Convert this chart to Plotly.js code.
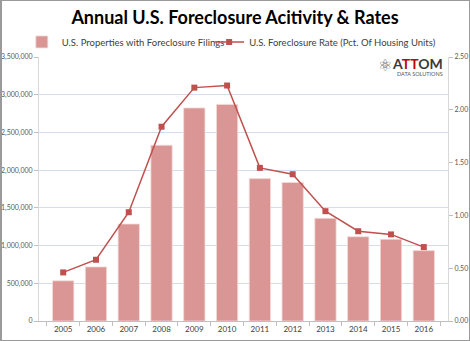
<!DOCTYPE html>
<html>
<head>
<meta charset="utf-8">
<script src="https://cdn.plot.ly/plotly-3.0.1.min.js"></script>
<style>
html,body{margin:0;padding:0;background:#fff;}
#wrap{position:relative;width:470px;height:341px;}
#chart{position:absolute;left:0;top:0;width:470px;height:341px;}
#frame{position:absolute;left:0;top:0;width:470px;height:341px;box-sizing:border-box;border:1px solid #9a9a9a;border-left:2px solid #9a9a9a;pointer-events:none;}
</style>
</head>
<body>
<div id="wrap"><div id="chart"></div><div id="frame"></div></div>
<script>
const years = ['2005','2006','2007','2008','2009','2010','2011','2012','2013','2014','2015','2016'];
const properties = [532833, 717522, 1285873, 2330483, 2824674, 2871891, 1887777, 1836634, 1361795, 1117426, 1083572, 933045];
const rates = [0.46, 0.58, 1.03, 1.84, 2.21, 2.23, 1.45, 1.39, 1.04, 0.85, 0.82, 0.70];
const leftTicks = [0, 500000, 1000000, 1500000, 2000000, 2500000, 3000000, 3500000];
const rightTicks = [0, 0.5, 1.0, 1.5, 2.0, 2.5];

const FONT = 'Lato, "Open Sans", sans-serif';
const traces = [
  {
    type: 'bar', x: years, y: properties,
    name: 'U.S. Properties with Foreclosure Filings',
    marker: {color: '#d99694', line: {color: '#f2dcdb', width: 0.8}},
    yaxis: 'y', legend: 'legend'
  },
  {
    type: 'scatter', mode: 'lines+markers', x: years, y: rates,
    name: 'U.S. Foreclosure Rate (Pct. Of Housing Units)',
    line: {color: '#c0504d', width: 1.5},
    marker: {symbol: 'square', size: 6, color: '#c0504d'},
    yaxis: 'y2', legend: 'legend2'
  }
];
const legendBase = {orientation: 'h', yanchor: 'middle', y: 1.057, font: {family: FONT, size: 9.5, color: '#404040'}, bgcolor: 'rgba(0,0,0,0)', itemwidth: 30};
const layout = {
  width: 470, height: 341,
  margin: {l: 39, r: 22, t: 57, b: 20},
  paper_bgcolor: '#fff', plot_bgcolor: '#fff',
  font: {family: FONT, color: '#595959', size: 8},
  title: {text: '<b>Annual U.S. Foreclosure Acitivity & Rates</b>', font: {family: FONT, size: 18, color: '#000'}, x: 0.5, xanchor: 'center', y: 0.947, yanchor: 'middle'},
  showlegend: true,
  legend: Object.assign({}, legendBase, {x: -0.042, xanchor: 'left'}),
  legend2: Object.assign({}, legendBase, {x: 0.416, xanchor: 'left'}),
  bargap: 0.35,
  xaxis: {
    type: 'category', showgrid: false, showline: true, linecolor: '#bfbfbf', linewidth: 1,
    ticks: 'outside', tickson: 'boundaries', ticklen: 4, tickcolor: '#bfbfbf',
    tickfont: {size: 8, color: '#404040'}, fixedrange: true
  },
  yaxis: {
    range: [0, 3500000], tickvals: leftTicks, tickformat: ',', showgrid: true, gridcolor: '#d3ddef', gridwidth: 1,
    showline: true, linecolor: '#d9d9d9', ticks: 'outside', ticklen: 4, tickcolor: '#bfbfbf',
    tickfont: {size: 7, color: '#595959'}, zeroline: false
  },
  yaxis2: {
    range: [0, 2.5], tickvals: rightTicks, tickformat: '.2f', overlaying: 'y', side: 'right', showgrid: false,
    showline: true, linecolor: '#d9d9d9', ticks: 'outside', ticklen: 4, tickcolor: '#bfbfbf',
    tickfont: {size: 7, color: '#595959'}, zeroline: false
  },
  annotations: [
    {xref: 'paper', yref: 'paper', x: 0.99, y: 1.012, xanchor: 'right', yanchor: 'top', showarrow: false, borderpad: 0,
     text: '<b>A<span style="color:#c0000f">TT</span>OM</b>', font: {family: FONT, size: 14, color: '#3a3a3a'}},
    {xref: 'paper', yref: 'paper', x: 0.99, y: 0.952, xanchor: 'right', yanchor: 'top', showarrow: false, borderpad: 0,
     text: 'DATA SOLUTIONS', font: {family: FONT, size: 5.5, color: '#555'}},
    {xref: 'paper', yref: 'paper', x: 0.845, y: 0.968, xanchor: 'center', yanchor: 'middle', showarrow: false, borderpad: 0,
     text: '⚛', font: {family: 'DejaVu Sans', size: 16, color: '#6a6a6a'}}
  ]
};
Plotly.newPlot('chart', traces, layout, {staticPlot: true, displayModeBar: false});
</script>
</body>
</html>
